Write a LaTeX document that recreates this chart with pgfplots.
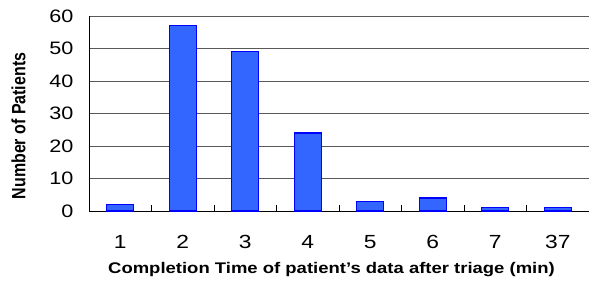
\documentclass[border=0pt]{standalone}
\usepackage{pgfplots}
\pgfplotsset{compat=1.18}
\usepackage{fontspec}
\setmainfont{Liberation Sans}
\newfontfamily\wide[FakeStretch=1.2]{Liberation Sans}
\newfontfamily\narrow[FakeStretch=0.833]{Liberation Sans}
\definecolor{barfill}{RGB}{51,102,255}
\definecolor{barline}{RGB}{0,0,255}
\begin{document}
\begin{tikzpicture}[x=1pt,y=1pt]
\useasboundingbox (0,0) rectangle (589,282);
\begin{axis}[
  at={(89pt,71pt)}, anchor=south west,
  scale only axis, width=500pt, height=195pt,
  xmin=-0.5, xmax=7.5, ymin=0, ymax=60,
  axis lines*=left,
  axis line style={black, line width=1pt},
  ytick={0,10,...,60},
  xtick={0,...,7},
  xticklabels={1,2,3,4,5,6,7,37},
  extra x ticks={0.5,1.5,...,6.5},
  extra x tick labels={},
  extra x tick style={major tick length=6pt, tick align=inside, tick style={black, line width=0.8pt}},
  major tick length=0pt,
  ymajorgrids,
  grid style={black!65, line width=1pt},
  /pgf/number format/assume math mode=true,
  yticklabel style={font=\wide\fontsize{18}{18}\selectfont, xshift=-12pt},
  xticklabel style={font=\wide\fontsize{19}{19}\selectfont, yshift=-21pt},
  xlabel={\textbf{Completion Time of patient’s data after triage (min)}},
  ylabel={\textbf{Number of Patients}},
  xlabel style={font=\wide\fontsize{15.4}{16}\selectfont, at={(axis description cs:0.485,-0.301)}, anchor=center},
  ylabel style={font=\narrow\fontsize{19.2}{19}\selectfont, at={(axis description cs:-0.141,0.436)}, anchor=center},
  ybar, bar width=0.43,
  clip=false,
]
\addplot[fill=barfill, draw=barline, line width=1.3pt] coordinates {
(0,2) (1,57) (2,49) (3,24) (4,3) (5,4) (6,1) (7,1)};
\end{axis}
\end{tikzpicture}
\end{document}
